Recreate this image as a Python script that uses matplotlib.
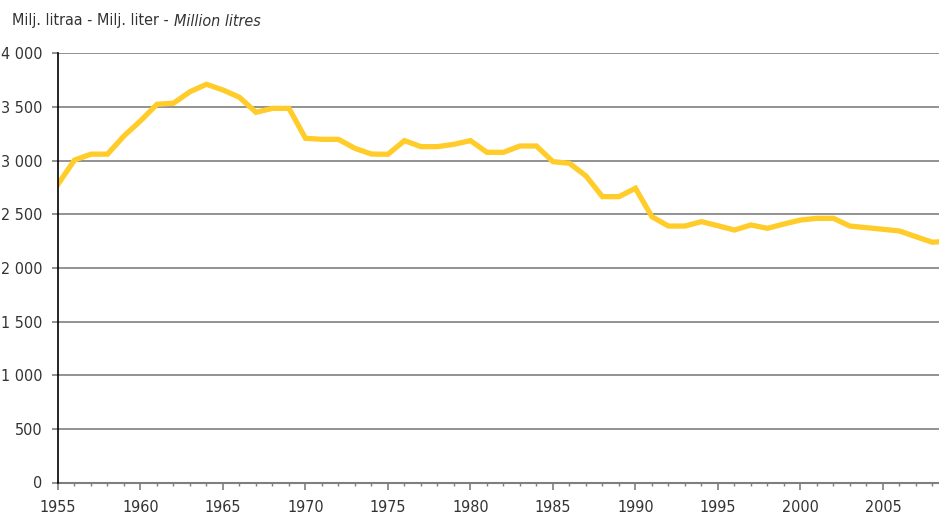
import numpy as np
import matplotlib
matplotlib.use("Agg")
import matplotlib.pyplot as plt
from matplotlib.ticker import MultipleLocator, FuncFormatter

plt.rcParams['font.family'] = ['DejaVu Sans']
plt.rcParams['font.stretch'] = 'condensed'

# Vuodet ja kulutus (milj. litraa)
years = list(range(1955, 2010))
values = [2780, 3005, 3060, 3060, 3230, 3370, 3525, 3535, 3642, 3711,
          3658, 3590, 3450, 3487, 3487, 3208, 3198, 3198, 3114, 3061,
          3059, 3186, 3130, 3130, 3152, 3186, 3077, 3077, 3136, 3136,
          2990, 2975, 2857, 2664, 2664, 2742, 2477, 2390, 2390, 2431,
          2393, 2353, 2400, 2369, 2409, 2446, 2462, 2462, 2390, 2375,
          2360, 2344, 2291, 2239, 2250]
ytick_vals = [0, 500, 1000, 1500, 2000, 2500, 3000, 3500, 4000]

fig = plt.figure(figsize=(9.39, 5.18), dpi=100)
W, H = 939, 518
ax = fig.add_axes([58 / W, 1 - 482.5 / H, (W - 58) / W, (482.5 - 53.3) / H])

ax.plot(years, values, color='#FFCC29', lw=3.8, solid_joinstyle='miter', zorder=3)

ax.set_xlim(1955, 2008.4)
ax.set_ylim(0, 4000)
ax.set_yticks(ytick_vals)
ax.yaxis.set_major_formatter(FuncFormatter(lambda v, p: f"{int(v):,}".replace(",", " ")))
ax.xaxis.set_major_locator(MultipleLocator(5))
ax.xaxis.set_minor_locator(MultipleLocator(1))

ax.grid(axis='y', color='#7f7f7f', lw=1.2, zorder=1)
for s in ['top', 'right']:
    ax.spines[s].set_visible(False)
ax.spines['left'].set_color('black')
ax.spines['left'].set_linewidth(1.2)
ax.spines['bottom'].set_color('#7f7f7f')
ax.spines['bottom'].set_linewidth(1.5)
ax.spines['left'].set_zorder(4)

ax.tick_params(axis='y', length=4.5, width=1.2, color='#7f7f7f', pad=6.5,
               labelsize=11.5, labelcolor='#333333')
ax.tick_params(axis='x', which='major', length=5, width=1.2, color='#7f7f7f',
               pad=7.5, labelsize=11.5, labelcolor='#333333')
ax.tick_params(axis='x', which='minor', length=2.5, width=1.0, color='#7f7f7f')

t1 = fig.text(12.5 / W, 1 - 21 / H, "Milj. litraa - Milj. liter - ", fontsize=11.5,
              color='#333333', va='center', ha='left')
fig.canvas.draw()
bb = t1.get_window_extent()
fig.text(bb.x1 / W, 1 - 21 / H, "Million litres", fontsize=11.5, style='italic',
         color='#333333', va='center', ha='left')

fig.savefig("out.png", dpi=100)
